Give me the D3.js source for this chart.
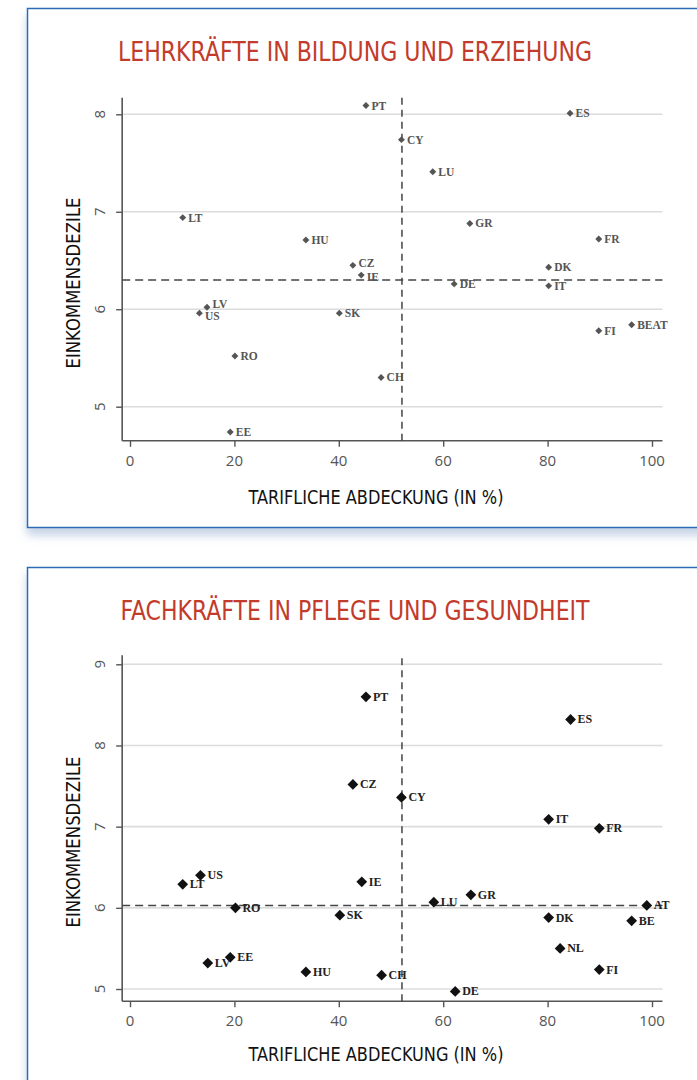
<!DOCTYPE html>
<html><head><meta charset="utf-8">
<script src="https://cdn.jsdelivr.net/npm/d3@7"></script>
<style>body{margin:0;background:#fff;} svg{display:block}</style>
</head><body><svg id="c" width="697" height="1080"></svg>
<script>
// ---- Data: Lehrkräfte in Bildung und Erziehung ----
const teachCountries = ["PT","ES","CY","LU","LT","GR","FR","HU","CZ","DK","IE","DE","IT","LV","US","SK","BEAT","FI","RO","CH","EE"];
const teachCoverage  = [45.2,84.3,52.0,58.0,10.1,65.1,89.8,33.7,42.7,80.2,44.3,62.1,80.2,14.75,13.3,40.1,96.1,89.8,20.1,48.1,19.2];
const teachDecile    = [8.09,8.01,7.74,7.41,6.94,6.88,6.72,6.71,6.45,6.43,6.35,6.26,6.24,6.02,5.96,5.96,5.84,5.78,5.52,5.30,4.74];
const teachRefX = 52.1, teachRefY = 6.30;

// ---- Data: Fachkräfte in Pflege und Gesundheit ----
const careCountries = ["PT","ES","CZ","CY","IT","FR","US","IE","LT","GR","LU","AT","RO","SK","DK","BE","NL","EE","LV","FI","HU","CH","DE"];
const careCoverage  = [45.2,84.4,42.7,52.0,80.2,89.9,13.5,44.4,10.1,65.3,58.2,99.0,20.2,40.2,80.2,96.1,82.4,19.2,14.9,89.9,33.7,48.2,62.3];
const careDecile    = [8.60,8.32,7.52,7.36,7.09,6.98,6.40,6.32,6.29,6.16,6.07,6.03,6.00,5.91,5.88,5.84,5.50,5.39,5.32,5.24,5.21,5.17,4.97];
const careRefX = 52.1, careRefY = 6.03;

// ---- Tick labels ----
const xTicks = [0,20,40,60,80,100];
const teachYTicks = [5,6,7,8];
const careYTicks = [5,6,7,8,9];

const svg = d3.select("#c");
const defs = svg.append("defs");
const f = defs.append("filter").attr("id","sh").attr("x","-10%").attr("y","-10%").attr("width","130%").attr("height","130%");
f.append("feDropShadow").attr("dx",0).attr("dy",7).attr("stdDeviation",5).attr("flood-color","#7f9cc4").attr("flood-opacity",0.45);

const condensed = "'DejaVu Sans Condensed','Liberation Sans Narrow','DejaVu Sans',sans-serif";
// small vertical nudges for labels that collide
const nudge = {LV:-3, US:3, CZ:-2, IE:2};

function panel(cfg){
  const g = svg.append("g");
  g.append("rect").attr("x",27.5).attr("y",cfg.boxY).attr("width",720).attr("height",cfg.boxH)
    .attr("fill","#fff").attr("stroke","#2a6db5").attr("stroke-width",1.5).attr("filter","url(#sh)");
  g.append("text").attr("x",355).attr("y",cfg.titleY).attr("text-anchor","middle")
    .attr("font-family",condensed).attr("font-stretch","condensed").attr("font-size",27)
    .attr("fill","#c23b2b").attr("textLength",cfg.titleW).attr("lengthAdjust","spacingAndGlyphs").text(cfg.title);

  const x = d3.scaleLinear().domain([0,100]).range([130,652]);
  const y = d3.scaleLinear().domain(cfg.yDom).range(cfg.yRange);
  const xExt = [-1.5,102], yExt = cfg.yExt;

  g.selectAll(".grid").data(cfg.yTicks).join("line")
    .attr("x1",x(xExt[0])).attr("x2",x(xExt[1])).attr("y1",d=>y(d)).attr("y2",d=>y(d))
    .attr("stroke","#dcdcdc").attr("stroke-width",1.6);

  const xa = g.append("g").attr("transform",`translate(0,${y(yExt[0])})`)
    .call(d3.axisBottom(x).tickValues(xTicks).tickSize(6).tickFormat(""));
  xa.select(".domain").remove();
  xa.selectAll("line").attr("stroke","#555").attr("stroke-width",1.4);
  const ya = g.append("g").attr("transform",`translate(${x(xExt[0])},0)`)
    .call(d3.axisLeft(y).tickValues(cfg.yTicks).tickSize(6).tickFormat(""));
  ya.select(".domain").remove();
  ya.selectAll("line").attr("stroke","#555").attr("stroke-width",1.4);
  g.append("line").attr("x1",x(xExt[0])).attr("x2",x(xExt[1])).attr("y1",y(yExt[0])).attr("y2",y(yExt[0]))
    .attr("stroke","#555").attr("stroke-width",1.6);
  g.append("line").attr("x1",x(xExt[0])).attr("x2",x(xExt[0])).attr("y1",y(yExt[0])).attr("y2",y(yExt[1]))
    .attr("stroke","#555").attr("stroke-width",1.6);

  g.selectAll(".xt").data(xTicks).join("text")
    .attr("x",d=>x(d)).attr("y",y(yExt[0])+25).attr("text-anchor","middle")
    .attr("font-family","'Open Sans',sans-serif").attr("font-size",15).attr("fill","#555").text(d=>d);
  g.selectAll(".yt").data(cfg.yTicks).join("text")
    .attr("transform",d=>`translate(105,${y(d)}) rotate(-90)`).attr("text-anchor","middle")
    .attr("font-family","'Open Sans',sans-serif").attr("font-size",15).attr("fill","#555").text(d=>d);

  g.append("text").attr("x",376).attr("y",y(yExt[0])+cfg.xTitleOff).attr("text-anchor","middle")
    .attr("font-family",condensed).attr("font-stretch","condensed").attr("font-size",20).attr("fill","#111")
    .attr("textLength",255).attr("lengthAdjust","spacingAndGlyphs").text("TARIFLICHE ABDECKUNG (IN %)");
  g.append("text").attr("transform",`translate(80,${cfg.yTitleC}) rotate(-90)`).attr("text-anchor","middle")
    .attr("font-family",condensed).attr("font-stretch","condensed").attr("font-size",20).attr("fill","#111")
    .attr("textLength",171).attr("lengthAdjust","spacingAndGlyphs").text("EINKOMMENSDEZILE");

  g.append("line").attr("x1",x(xExt[0])).attr("x2",x(xExt[1])).attr("y1",y(cfg.refY)).attr("y2",y(cfg.refY))
    .attr("stroke","#444").attr("stroke-width",1.5).attr("stroke-dasharray","8,5");
  g.append("line").attr("x1",x(cfg.refX)).attr("x2",x(cfg.refX)).attr("y1",y(yExt[0])).attr("y2",y(yExt[1])-2)
    .attr("stroke","#444").attr("stroke-width",1.5).attr("stroke-dasharray","7,5");

  const pts = cfg.countries.map((c,i)=>({c, xv:cfg.cov[i], yv:cfg.dec[i]}));
  const sym = d3.symbol(d3.symbolSquare, cfg.mSize);
  g.selectAll(".pt").data(pts).join("path")
    .attr("d",sym).attr("transform",d=>`translate(${x(d.xv)},${y(d.yv)}) rotate(45)`)
    .attr("fill",cfg.mColor);
  g.selectAll(".lb").data(pts).join("text")
    .attr("x",d=>x(d.xv)+cfg.lOff).attr("y",d=>y(d.yv)+4+(cfg.nudge ? (nudge[d.c]||0) : 0))
    .attr("font-family","'Liberation Serif','DejaVu Serif',serif").attr("font-size",cfg.lSize)
    .attr("fill",cfg.lColor).attr("font-weight","bold").text(d=>d.c);
}

panel({boxY:8.5, boxH:519, titleY:61, titleW:474, title:"LEHRKRÄFTE IN BILDUNG UND ERZIEHUNG",
  yDom:[5,8], yRange:[406.7,114.3], yExt:[4.65,8.17], yTicks:teachYTicks, xTitleOff:63, yTitleC:283,
  refX:teachRefX, refY:teachRefY, countries:teachCountries, cov:teachCoverage, dec:teachDecile,
  mSize:24, mColor:"#555", lOff:5.5, lColor:"#555", lSize:11.5, nudge:true});

panel({boxY:567.5, boxH:600, titleY:620, titleW:469, title:"FACHKRÄFTE IN PFLEGE UND GESUNDHEIT",
  yDom:[5,9], yRange:[989,664.3], yExt:[4.85,9.11], yTicks:careYTicks, xTitleOff:60, yTitleC:842,
  refX:careRefX, refY:careRefY, countries:careCountries, cov:careCoverage, dec:careDecile,
  mSize:58, mColor:"#111", lOff:7, lColor:"#222", lSize:12, nudge:false});
</script></body></html>
